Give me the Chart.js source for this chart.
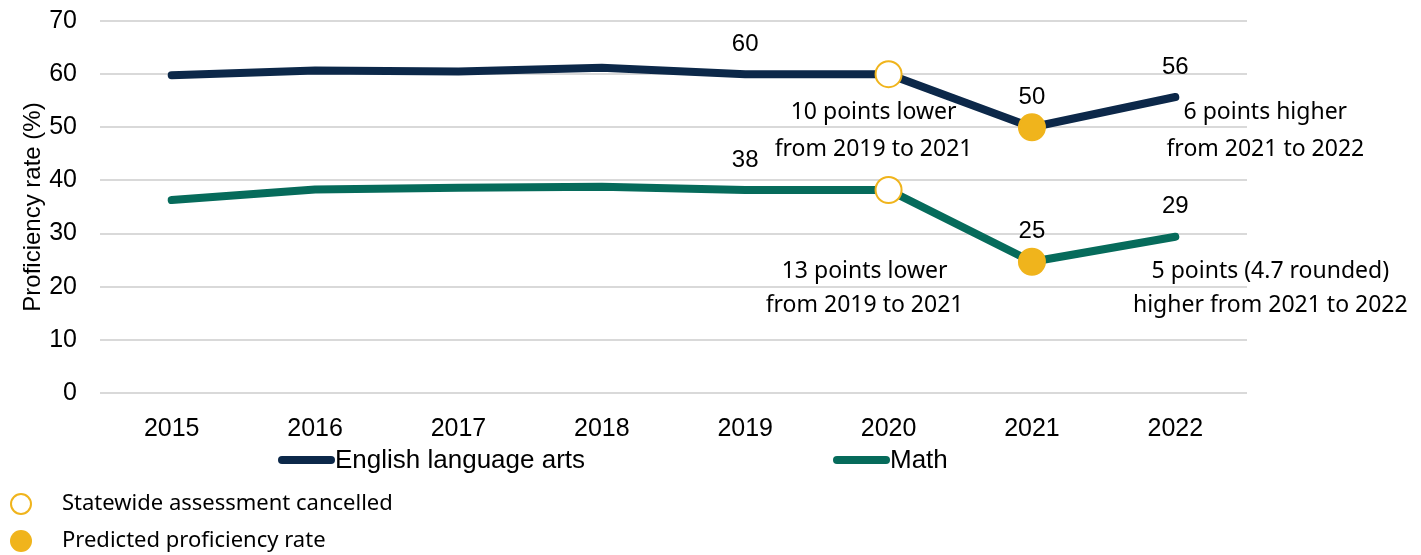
<!DOCTYPE html>
<html>
<head>
<meta charset="utf-8">
<script src="https://cdn.jsdelivr.net/npm/chart.js@4.4.1/dist/chart.umd.min.js"></script>
<style>
  html, body { margin: 0; padding: 0; background: #fff; }
  #wrap { position: relative; width: 1421px; height: 555px; }
</style>
</head>
<body>
<div id="wrap"><canvas id="grafico" width="1421" height="555"></canvas></div>
<script>
// dados
const anos = ['2015', '2016', '2017', '2018', '2019', '2020', '2021', '2022'];
const ela = [59.8, 60.7, 60.5, 61.2, 60.0, 60.0, 50.0, 55.7];
const math = [36.3, 38.3, 38.6, 38.8, 38.2, 38.2, 24.7, 29.4];
const yTicks = [0, 10, 20, 30, 40, 50, 60, 70];

const idxCancelado = 5;   // 2020
const idxPrevisto = 6;    // 2021
const idxRotulos = [4, 6, 7];

const corEla = '#0c2849';
const corMath = '#066b5b';
const corOuro = '#f0b41c';

const fonteTick = '"Liberation Sans", Arial, sans-serif';
const fonteNota = '"Noto Sans", "Open Sans", sans-serif';

function raio(ctx) {
  return (ctx.dataIndex === idxCancelado || ctx.dataIndex === idxPrevisto) ? 13 : 0;
}
function fundo(ctx) {
  return ctx.dataIndex === idxCancelado ? '#ffffff' : corOuro;
}

// rotulos + notas + legenda
const extras = {
  id: 'extras',
  afterDatasetsDraw(chart) {
    const c = chart.ctx;
    const x = chart.scales.x;
    const y = chart.scales.y;
    c.save();
    c.fillStyle = '#000';
    c.textAlign = 'center';
    c.textBaseline = 'middle';

    // rotulos de valor
    c.font = '24px ' + fonteTick;
    chart.data.datasets.forEach((ds, d) => {
      const meta = chart.getDatasetMeta(d);
      idxRotulos.forEach(i => {
        const p = meta.data[i];
        c.fillText(Math.round(ds.data[i]), p.x, p.y - 30);
      });
    });

    // notas
    c.font = '23px ' + fonteNota;
    const notas = [
      ['10 points lower', 5, -15, 52.8],
      ['from 2019 to 2021', 5, -15, 45.8],
      ['6 points higher', 7, 90, 52.8],
      ['from 2021 to 2022', 7, 90, 45.8],
      ['13 points lower', 5, -24, 22.8],
      ['from 2019 to 2021', 5, -24, 16.5],
      ['5 points (4.7 rounded)', 7, 95, 22.8],
      ['higher from 2021 to 2022', 7, 95, 16.5]
    ];
    notas.forEach(n => {
      c.fillText(n[0], x.getPixelForValue(n[1]) + n[2], y.getPixelForValue(n[3]));
    });

    // legenda das series
    c.lineCap = 'round';
    c.lineWidth = 8;
    c.textAlign = 'left';
    c.font = '26px ' + fonteTick;
    [[corEla, 'English language arts', 282], [corMath, 'Math', 837]].forEach(l => {
      c.strokeStyle = l[0];
      c.beginPath();
      c.moveTo(l[2], 460);
      c.lineTo(l[2] + 49, 460);
      c.stroke();
      c.fillText(l[1], l[2] + 53, 461);
    });

    // legenda dos marcadores
    c.font = '22px ' + fonteNota;
    c.lineWidth = 2;
    c.strokeStyle = corOuro;
    c.fillStyle = '#fff';
    c.beginPath();
    c.arc(21, 504, 10, 0, Math.PI * 2);
    c.fill();
    c.stroke();
    c.fillStyle = corOuro;
    c.beginPath();
    c.arc(21, 541, 11, 0, Math.PI * 2);
    c.fill();
    c.fillStyle = '#000';
    c.fillText('Statewide assessment cancelled', 62, 504);
    c.fillText('Predicted proficiency rate', 62, 541);
    c.restore();
  }
};

new Chart(document.getElementById('grafico'), {
  type: 'line',
  data: {
    labels: anos,
    datasets: [
      {
        label: 'English language arts',
        data: ela,
        borderColor: corEla,
        borderWidth: 8,
        borderCapStyle: 'round',
        borderJoinStyle: 'round',
        pointRadius: raio,
        pointHoverRadius: raio,
        pointBackgroundColor: fundo,
        pointBorderColor: corOuro,
        pointBorderWidth: 2
      }, {
        label: 'Math',
        data: math,
        borderColor: corMath,
        borderWidth: 8,
        borderCapStyle: 'round',
        borderJoinStyle: 'round',
        pointRadius: raio,
        pointHoverRadius: raio,
        pointBackgroundColor: fundo,
        pointBorderColor: corOuro,
        pointBorderWidth: 2
      }
    ]
  },
  options: {
    responsive: false,
    animation: false,
    layout: { padding: { top: 21, right: 174, bottom: 110, left: 0 } },
    plugins: {
      legend: { display: false },
      tooltip: { enabled: false }
    },
    scales: {
      x: {
        offset: true,
        grid: { display: false },
        border: { display: false },
        ticks: { color: '#000', font: { family: fonteTick, size: 25 }, padding: 13, maxRotation: 0 },
        afterFit: s => { s.height = 52; s.paddingLeft = 0; s.paddingRight = 0; }
      },
      y: {
        min: 0,
        max: 70,
        afterBuildTicks: s => { s.ticks = yTicks.map(v => ({ value: v })); },
        grid: { color: '#d9d9d9', lineWidth: 2, drawTicks: false },
        border: { display: false },
        ticks: { color: '#000', font: { family: fonteTick, size: 25 }, padding: 23 },
        title: {
          display: true,
          text: 'Proficiency rate (%)',
          color: '#000',
          font: { family: fonteTick, size: 24 },
          padding: { top: 19, bottom: 0 }
        },
        afterFit: s => { s.width = 100; s.paddingTop = 0; s.paddingBottom = 0; }
      }
    }
  },
  plugins: [extras]
});
</script>
</body>
</html>
